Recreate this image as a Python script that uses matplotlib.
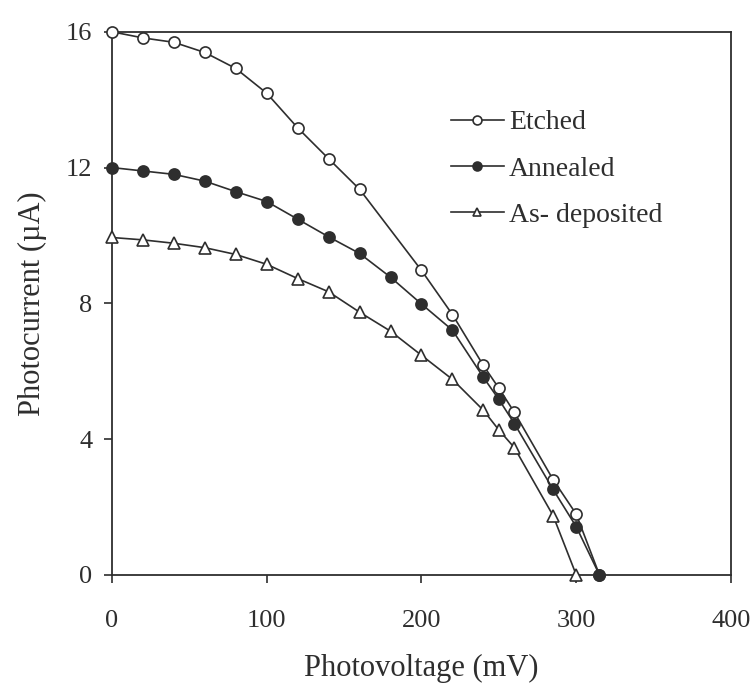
import matplotlib.pyplot as plt

# photovoltage (mV) and photocurrent (uA)
etched_v = [0, 20, 40, 60, 80, 100, 120, 140, 160, 200, 220, 240, 250, 260, 285, 300, 315]
etched_i = [16.0, 15.82, 15.69, 15.39, 14.92, 14.19, 13.17, 12.26, 11.36, 8.97, 7.67, 6.17, 5.5, 4.79, 2.81, 1.79, 0.0]

annealed_v = [0, 20, 40, 60, 80, 100, 120, 140, 160, 180, 200, 220, 240, 250, 260, 285, 300, 315]
annealed_i = [12.0, 11.9, 11.8, 11.6, 11.29, 11.0, 10.48, 9.96, 9.47, 8.77, 7.98, 7.21, 5.82, 5.17, 4.46, 2.52, 1.42, 0.0]

asdep_v = [0, 20, 40, 60, 80, 100, 120, 140, 160, 180, 200, 220, 240, 250, 260, 285, 300]
asdep_i = [9.94, 9.87, 9.77, 9.64, 9.44, 9.15, 8.73, 8.34, 7.74, 7.18, 6.47, 5.76, 4.85, 4.27, 3.75, 1.75, 0.0]

plt.rcParams['font.family'] = ['Liberation Serif', 'DejaVu Serif']
ink = '#2e2e2e'

fig = plt.figure(figsize=(7.54, 6.91), dpi=100)
ax = fig.add_axes([0.1485, 0.168, 0.821, 0.786])

ax.plot(etched_v, etched_i, color=ink, lw=1.2, marker='o', ms=8,
        mfc='white', mec=ink, mew=1.2, label='Etched', zorder=3, clip_on=False)
ax.plot(annealed_v, annealed_i, color=ink, lw=1.2, marker='o', ms=8,
        mfc=ink, mec=ink, mew=1.2, label='Annealed', zorder=4, clip_on=False)
ax.plot(asdep_v, asdep_i, color=ink, lw=1.2, marker='^', ms=8,
        mfc='white', mec=ink, mew=1.2, label='As- deposited', zorder=3, clip_on=False)

ax.set_xlim(0, 400)
ax.set_ylim(0, 16)
ax.set_xticks([0, 100, 200, 300, 400])
ax.set_yticks([0, 4, 8, 12, 16])
ax.tick_params(direction='out', length=6, width=1.2, colors=ink,
               labelsize=19, pad=8)
ax.tick_params(axis='x', pad=19)
for s in ax.spines.values():
    s.set_color(ink)
    s.set_linewidth(1.3)

ax.set_xlabel('Photovoltage (mV)', fontsize=22, color=ink, labelpad=16)
ax.set_ylabel('Photocurrent (\u00b5A)', fontsize=22, color=ink, labelpad=14)

leg = ax.legend(loc='upper left', bbox_to_anchor=(0.507, 0.902), frameon=False,
                fontsize=20, handlelength=1.9, handletextpad=0.2,
                labelspacing=0.75, markerscale=0.8)
for t in leg.get_texts():
    t.set_color(ink)

fig.savefig('out.png', dpi=100)
